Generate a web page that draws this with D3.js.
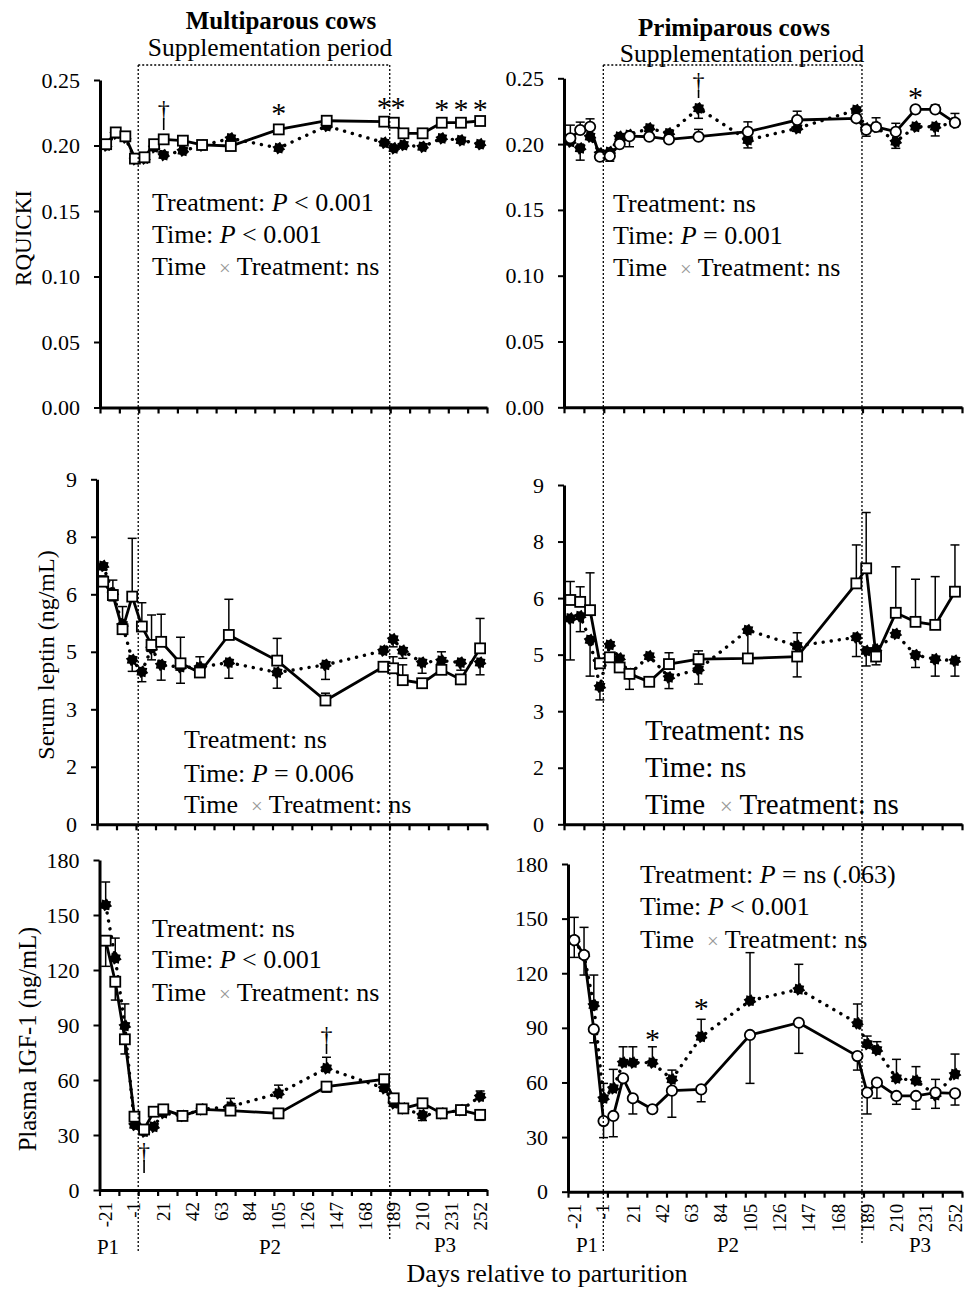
<!DOCTYPE html>
<html><head><meta charset="utf-8">
<script src="https://cdn.jsdelivr.net/npm/d3@7"></script>
<style>
body{margin:0;background:#fff}
svg{display:block}
text{font-family:"Liberation Serif","Times New Roman",serif;fill:#000;white-space:pre}
</style>
</head><body><svg id="c" width="965" height="1290"></svg>
<script>
// ---------- DATA ----------
const days = [-21,-14,-7,0,7,14,21,35,49,70,105,140,182,189,196,210,224,238,252];
const xTickLabelDays = [-21,-1,21,42,63,84,105,126,147,168,189,210,231,252];
const xTickLabels = ["-21","-1","21","42","63","84","105","126","147","168","189","210","231","252"];
const supplementationPeriod = [2.4, 186];
const xDomain = [-25.5, 257];

const rqTicks = [0,0.05,0.10,0.15,0.20,0.25];
const rqTickLabels = ["0.00","0.05","0.10","0.15","0.20","0.25"];
const leptinTicks = [0,1.5,3,4.5,6,7.5,9];
const leptinTickLabels = ["0","2","3","5","6","8","9"];
const igfTicks = [0,30,60,90,120,150,180];
const igfTickLabels = ["0","30","60","90","120","150","180"];

// Multiparous RQUICKI
const multiRqOpen   = [0.201,0.210,0.207,0.190,0.191,0.201,0.2047,0.2037,0.2004,0.1996,0.2123,0.2189,0.2182,0.2174,0.2093,0.2093,0.2174,0.2174,0.2187];
const multiRqOpenErr= [0.002,0.002,0.002,0.002,0.002,0.002,0.002,0.002,0.002,0.002,0.002,0.002,0.002,0.002,0.002,0.002,0.002,0.002,0.002];
const multiRqFilled = [0.200,0.209,0.206,0.1895,0.190,0.1986,0.1927,0.196,0.200,0.2055,0.198,0.2149,0.2021,0.1979,0.2004,0.199,0.2055,0.204,0.201];
const multiRqFilledErr=[-0.002,-0.002,-0.002,-0.002,-0.002,-0.002,-0.002,-0.002,-0.002,-0.002,-0.002,-0.002,-0.002,-0.002,-0.002,-0.002,-0.002,-0.002,-0.002];

// Primiparous RQUICKI
const primiRqOpen   = [0.2044,0.2107,0.2132,0.1904,0.191,0.200,0.206,0.2056,0.2036,0.2056,0.2094,0.2183,0.2196,0.211,0.213,0.2094,0.2264,0.2264,0.2163];
const primiRqOpenErr= [0.010,0.006,0.006,-0.0025,-0.004,0,-0.008,0,0,0.0056,0.0075,0.0067,0,0,0.007,0.0064,0,0.0033,0.007];
const primiRqFilled = [0.2018,0.1968,0.2056,0.193,0.194,0.2056,0.207,0.212,0.2082,0.2272,0.2031,0.212,0.2259,0.212,0.213,0.2018,0.2132,0.2132,0.2163];
const primiRqFilledErr=[0,-0.009,0,0,0,0,0,0,0,-0.0076,-0.006,0,0,-0.006,0,-0.005,0,-0.007,0];

// Multiparous leptin
const multiLepOpen   = [6.33,5.98,5.09,5.94,5.16,4.68,4.76,4.20,3.96,4.94,4.27,3.23,4.11,4.07,3.76,3.68,4.03,3.78,4.59];
const multiLepOpenErr= [0.15,0.39,0.59,1.52,0.62,0.78,0.72,0.68,0.41,0.93,0.58,0.19,0.10,0.30,0.40,0.10,0.10,0.10,0.78];
const multiLepFilled = [6.74,6.03,5.20,4.29,3.98,4.59,4.16,4.10,4.10,4.22,3.96,4.16,4.53,4.83,4.53,4.22,4.27,4.22,4.22];
const multiLepFilledErr=[-0.10,-0.20,-0.20,-0.30,-0.26,-0.30,-0.40,-0.42,-0.15,-0.41,-0.41,-0.38,0,-0.20,-0.20,-0.28,0.23,-0.20,-0.32];

// Primiparous leptin
const primiLepOpen   = [5.95,5.90,5.68,4.27,4.43,4.16,3.99,3.78,4.25,4.38,4.40,4.45,6.39,6.79,4.45,5.61,5.37,5.29,6.17];
const primiLepOpenErr= [0.49,0.40,0.99,0,0,0,0,0,0.30,0.22,0,-0.54,1.02,1.48,0,1.22,1.13,1.28,1.24];
const primiLepFilled = [5.46,5.52,4.89,3.65,4.76,4.40,3.99,4.46,3.90,4.11,5.15,4.73,4.96,4.60,4.64,5.05,4.49,4.38,4.34];
const primiLepFilledErr=[-1.10,-0.41,-0.96,-0.35,0,0,-0.41,0,-0.30,-0.39,-0.70,0.35,-0.51,-0.40,-0.41,0,-0.33,-0.45,-0.41];

// Multiparous IGF-1
const multiIgfOpen   = [136,113.6,82.2,40,33,42.7,44,40.4,44,43.3,41.8,56.4,60.4,50,44.5,47.3,41.8,43.6,41];
const multiIgfOpenErr= [-14,-10,-8,0,0,0,0,0,0,0,0,-3,0,0,0,0,0,0,-3];
const multiIgfFilled = [155.5,126.4,89.5,35.5,31.8,34.5,42,40.4,44,45.5,52.7,66.4,55.5,47.3,44.5,40.9,41.8,43.6,51];
const multiIgfFilledErr=[12.5,11,12,0,0,0,0,0,0,4.5,4.5,6,0,0,0,-3,0,0,3];

// Primiparous IGF-1
const primiIgfOpen   = [138.2,130,89.2,38.8,41.6,62.3,51.3,45.3,55.5,56.2,86.1,92.8,74.5,54.4,59.9,52.6,52.6,54.4,54];
const primiIgfOpenErr= [-9.5,-11,-7.4,-9.1,-11.4,0,-8.6,0,-14.6,-6.8,-26.6,-16.8,-7.7,-11.7,-8.6,-4.6,-7.3,7.3,-6.4];
const primiIgfFilled = [138,130,102.5,51.3,56.8,70.9,70.9,70.9,61.7,85.1,104.9,111.2,92.5,81.1,77.8,62.3,61,53.1,64.6];
const primiIgfFilledErr=[12.7,15.2,16.5,8.2,10.4,8.7,8.7,8.7,5.1,9.6,26.4,13.7,10.6,4.4,4.6,10.4,7.7,-7.3,11];

// significance marks (day, value in axis units)
const multiRqSig  = [{day:21,sym:"dagger",top:0.2347,bottom:0.2118},{day:105,sym:"star",at:0.2271},
                     {day:182,sym:"star",at:0.2317},{day:192,sym:"star",at:0.2317},
                     {day:224,sym:"star",at:0.2305},{day:238,sym:"star",at:0.2305},{day:252,sym:"star",at:0.2305}];
const primiRqSig  = [{day:70,sym:"dagger",top:0.2548,bottom:0.235},{day:224,sym:"star",at:0.238}];
const multiIgfSig = [{day:7,sym:"dagger",top:26.2,bottom:9.3},{day:140,sym:"dagger",top:89.5,bottom:74.2}];
const primiIgfSig = [{day:35,sym:"star",at:85.5},{day:70,sym:"star",at:102.5}];

// ---------- DRAW ----------
const svg = d3.select("#c");
const FONT = '"Liberation Serif","Times New Roman",serif';

const panels = [
  {left:100,right:487,top:80,bottom:407.5,yDomain:[0,0.25],yTicks:rqTicks,yLab:rqTickLabels,open:multiRqOpen,openErr:multiRqOpenErr,filled:multiRqFilled,filledErr:multiRqFilledErr,shape:"square",sig:multiRqSig,xlabels:false},
  {left:564,right:962,top:78.3,bottom:407.3,yDomain:[0,0.25],yTicks:rqTicks,yLab:rqTickLabels,open:primiRqOpen,openErr:primiRqOpenErr,filled:primiRqFilled,filledErr:primiRqFilledErr,shape:"circle",sig:primiRqSig,xlabels:false},
  {left:97,right:487,top:479.3,bottom:824.3,yDomain:[0,9],yTicks:leptinTicks,yLab:leptinTickLabels,open:multiLepOpen,openErr:multiLepOpenErr,filled:multiLepFilled,filledErr:multiLepFilledErr,shape:"square",sig:[],xlabels:false},
  {left:564,right:962,top:485,bottom:824.3,yDomain:[0,9],yTicks:leptinTicks,yLab:leptinTickLabels,open:primiLepOpen,openErr:primiLepOpenErr,filled:primiLepFilled,filledErr:primiLepFilledErr,shape:"square",sig:[],xlabels:false},
  {left:99.5,right:487,top:860,bottom:1190,yDomain:[0,180],yTicks:igfTicks,yLab:igfTickLabels,open:multiIgfOpen,openErr:multiIgfOpenErr,filled:multiIgfFilled,filledErr:multiIgfFilledErr,shape:"square",sig:multiIgfSig,xlabels:true},
  {left:568,right:962,top:864,bottom:1191.7,yDomain:[0,180],yTicks:igfTicks,yLab:igfTickLabels,open:primiIgfOpen,openErr:primiIgfOpenErr,filled:primiIgfFilled,filledErr:primiIgfFilledErr,shape:"circle",sig:primiIgfSig,xlabels:true}
];

function starPath(r1, r2, n){
  const pts = [];
  for(let k=0;k<2*n;k++){
    const a = k*Math.PI/n + Math.PI/(2*n);
    const r = k%2===0 ? r1 : r2;
    pts.push([r*Math.cos(a), r*Math.sin(a)]);
  }
  return "M"+pts.map(p=>p[0].toFixed(2)+","+p[1].toFixed(2)).join("L")+"Z";
}
const filledPath = starPath(6.5, 4.8, 8);

const xTickVals = d3.range(21).map(i => xDomain[0] + i*(xDomain[1]-xDomain[0])/20);
const xScales = [];

panels.forEach((p, pi) => {
  const x = d3.scaleLinear().domain(xDomain).range([p.left, p.right]);
  const y = d3.scaleLinear().domain(p.yDomain).range([p.bottom, p.top]);
  xScales.push(x);
  const g = svg.append("g");

  // y axis
  const ya = g.append("g").attr("transform", `translate(${p.left},0)`)
    .call(d3.axisLeft(y).tickValues(p.yTicks).tickFormat((d,i)=>p.yLab[i]).tickSize(6).tickSizeOuter(0).tickPadding(14));
  ya.select(".domain").attr("stroke","#000").attr("stroke-width",3);
  ya.selectAll(".tick line").attr("stroke","#000").attr("stroke-width",2);
  ya.selectAll(".tick text").attr("font-family",FONT).attr("font-size",22).attr("fill","#000");

  // x axis
  const xa = g.append("g").attr("transform", `translate(0,${p.bottom})`)
    .call(d3.axisBottom(x).tickValues(xTickVals).tickFormat("").tickSize(6).tickSizeOuter(0));
  xa.select(".domain").attr("stroke","#000").attr("stroke-width",3);
  xa.selectAll(".tick line").attr("stroke","#000").attr("stroke-width",2.2);

  if(p.xlabels){
    g.selectAll(".xl").data(xTickLabelDays).enter().append("text")
      .attr("transform", d => `translate(${x(d)},${p.bottom+12}) rotate(-90)`)
      .attr("text-anchor","end").attr("dy","0.35em")
      .attr("font-size",19)
      .text((d,i)=>xTickLabels[i]);
  }

  const ptsO = days.map((d,i)=>({d, v:p.open[i], e:p.openErr[i]}));
  const ptsF = days.map((d,i)=>({d, v:p.filled[i], e:p.filledErr[i]}));
  const line = d3.line().x(q=>x(q.d)).y(q=>y(q.v));

  // error bars
  [ptsF, ptsO].forEach(pts => {
    pts.filter(q=>q.e!==0).forEach(q=>{
      const x0 = x(q.d), y0 = y(q.v), y1 = y(q.v+q.e);
      g.append("line").attr("x1",x0).attr("x2",x0).attr("y1",y0).attr("y2",y1).attr("stroke","#000").attr("stroke-width",1.5);
      g.append("line").attr("x1",x0-4.5).attr("x2",x0+4.5).attr("y1",y1).attr("y2",y1).attr("stroke","#000").attr("stroke-width",1.5);
    });
  });

  // dotted series (filled markers)
  g.append("path").attr("d", line(ptsF)).attr("fill","none").attr("stroke","#000")
    .attr("stroke-width",3.4).attr("stroke-dasharray","0.1 8").attr("stroke-linecap","round");
  // solid series
  g.append("path").attr("d", line(ptsO)).attr("fill","none").attr("stroke","#000").attr("stroke-width",2.8);

  g.selectAll(".fm").data(ptsF).enter().append("path")
    .attr("transform", q=>`translate(${x(q.d)},${y(q.v)})`).attr("d", filledPath).attr("fill","#000");

  if(p.shape==="square"){
    g.selectAll(".om").data(ptsO).enter().append("rect")
      .attr("x", q=>x(q.d)-5).attr("y", q=>y(q.v)-5).attr("width",10).attr("height",10)
      .attr("fill","#fff").attr("stroke","#000").attr("stroke-width",1.8);
  } else {
    g.selectAll(".om").data(ptsO).enter().append("circle")
      .attr("cx", q=>x(q.d)).attr("cy", q=>y(q.v)).attr("r",5.2)
      .attr("fill","#fff").attr("stroke","#000").attr("stroke-width",1.8);
  }

  // significance
  p.sig.forEach(s=>{
    const sx = x(s.day);
    if(s.sym==="star"){
      g.append("text").attr("x",sx).attr("y",y(s.at)+13).attr("text-anchor","middle").attr("font-size",30).text("*");
    } else {
      const yt = y(s.top), yb = y(s.bottom);
      g.append("text").attr("x",sx).attr("y",yt+17).attr("text-anchor","middle").attr("font-size",24).text("\u2020");
      g.append("line").attr("x1",sx).attr("x2",sx).attr("y1",yt+18).attr("y2",yb).attr("stroke","#000").attr("stroke-width",1.6);
    }
  });
});

// supplementation period dotted lines
function dotted(x1,y1,x2,y2){
  svg.append("line").attr("x1",x1).attr("y1",y1).attr("x2",x2).attr("y2",y2)
    .attr("stroke","#000").attr("stroke-width",1.3).attr("stroke-dasharray","2 2");
}
[[0,1251,1240],[1,1251,1245]].forEach(([pi,b1,b2])=>{
  const x = xScales[pi];
  const xa = x(supplementationPeriod[0]), xb = x(supplementationPeriod[1]);
  dotted(xa,65,xa,b1); dotted(xb,65,xb,b2); dotted(xa,65,xb,65);
});

// titles
svg.append("text").attr("x",281).attr("y",29).attr("text-anchor","middle").attr("font-size",25).attr("font-weight","bold").text("Multiparous cows");
svg.append("text").attr("x",270).attr("y",56).attr("text-anchor","middle").attr("font-size",25.5).text("Supplementation period");
svg.append("text").attr("x",734).attr("y",36).attr("text-anchor","middle").attr("font-size",25).attr("font-weight","bold").text("Primiparous cows");
svg.append("text").attr("x",742).attr("y",62).attr("text-anchor","middle").attr("font-size",25.5).text("Supplementation period");

// y-axis titles
function ytitle(t, xb, yc, fs){
  svg.append("text").attr("transform",`translate(${xb},${yc}) rotate(-90)`).attr("text-anchor","middle").attr("font-size",fs).text(t);
}
ytitle("RQUICKI", 31, 238, 23);
ytitle("Serum leptin (ng/mL)", 54, 655, 24);
ytitle("Plasma IGF-1 (ng/mL)", 36, 1039, 24.5);

// stats annotations
function ann(x, ys, lines, fs){
  lines.forEach((ln, i)=>{
    const t = svg.append("text").attr("x",x).attr("y",ys[i]).attr("font-size",fs);
    ln.forEach(seg=>{
      const s = t.append("tspan").text(seg.t);
      if(seg.i) s.attr("font-style","italic");
      if(seg.g) s.attr("fill","#999").attr("font-size",fs*0.8);
    });
  });
}
const txLine = [{t:"Time  "},{t:"\u00d7",g:true},{t:" Treatment: ns"}];
ann(152,[211,243,275],[[{t:"Treatment: "},{t:"P",i:true},{t:" < 0.001"}],[{t:"Time: "},{t:"P",i:true},{t:" < 0.001"}],txLine],26);
ann(613,[212,244,276],[[{t:"Treatment: ns"}],[{t:"Time: "},{t:"P",i:true},{t:" = 0.001"}],txLine],26);
ann(184,[748,782,813],[[{t:"Treatment: ns"}],[{t:"Time: "},{t:"P",i:true},{t:" = 0.006"}],txLine],26);
ann(645,[740,777,814],[[{t:"Treatment: ns"}],[{t:"Time: ns"}],txLine],29);
ann(152,[937,968,1001],[[{t:"Treatment: ns"}],[{t:"Time: "},{t:"P",i:true},{t:" < 0.001"}],txLine],26);
ann(640,[883,915,948],[[{t:"Treatment: "},{t:"P",i:true},{t:" = ns (.063)"}],[{t:"Time: "},{t:"P",i:true},{t:" < 0.001"}],txLine],26);

// period labels
[["P1",108,1254],["P2",270,1254],["P3",445,1252],["P1",587,1252],["P2",728,1252],["P3",920,1252]].forEach(([t,x,y])=>{
  svg.append("text").attr("x",x).attr("y",y).attr("text-anchor","middle").attr("font-size",21).text(t);
});
svg.append("text").attr("x",547).attr("y",1282).attr("text-anchor","middle").attr("font-size",26).text("Days relative to parturition");
</script>
</body></html>
